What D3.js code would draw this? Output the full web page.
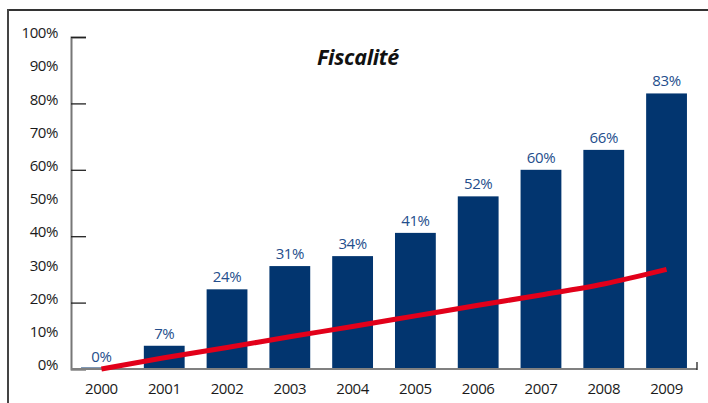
<!DOCTYPE html>
<html><head><meta charset="utf-8">
<script src="https://cdn.jsdelivr.net/npm/d3@7"></script>
<style>
body{margin:0;background:#fff;}
svg{display:block;font-family:"Open Sans",sans-serif;}
</style></head>
<body><svg id="c" width="708" height="403"></svg>
<script>
const years = ["2000","2001","2002","2003","2004","2005","2006","2007","2008","2009"];
const barValues = [0, 7, 24, 31, 34, 41, 52, 60, 66, 83];
const lineValues = [0, 3.4, 6.5, 9.7, 12.8, 16, 19.2, 22.3, 25.6, 30];
const yTickLabels = [0,10,20,30,40,50,60,70,80,90,100];
const yTickMarks = [0,20,40,60,80,100];
const title = "Fiscalité";

const svg = d3.select("#c");
const x = d3.scaleBand().domain(years).range([71, 697]).paddingInner(0.35).paddingOuter(0.16);
const y = d3.scaleLinear().domain([0, 100]).range([369, 37]);

// frame
svg.append("line").attr("x1",8).attr("x2",708).attr("y1",10).attr("y2",10).attr("stroke","#333").attr("stroke-width",2);
svg.append("line").attr("x1",8).attr("x2",8).attr("y1",9).attr("y2",403).attr("stroke","#444").attr("stroke-width",2);

// title
svg.append("text").attr("x",358).attr("y",65).attr("text-anchor","middle")
  .attr("font-size",21.5).attr("font-weight","bold").attr("font-style","italic").attr("fill","#111")
  .attr("letter-spacing",-0.3).text(title);

// bars
svg.selectAll("rect.bar").data(years).join("rect").attr("class","bar")
  .attr("x", d=>x(d)).attr("width", x.bandwidth())
  .attr("y", (d,i)=> Math.min(y(barValues[i]), y(0)-1.5))
  .attr("height", (d,i)=> Math.max(y(0)-y(barValues[i]), 1.5))
  .attr("fill","#02356f");

// value labels
svg.selectAll("text.val").data(years).join("text").attr("class","val")
  .attr("x", d=>x(d)+x.bandwidth()/2).attr("y",(d,i)=>y(barValues[i])-7)
  .attr("text-anchor","middle").attr("font-size",15).attr("letter-spacing",-0.4).attr("fill","#244e8c")
  .text((d,i)=>barValues[i]+"%");

// y axis
const yAxis = d3.axisRight(y).tickValues(yTickMarks).tickSize(15).tickFormat("");
const gy = svg.append("g").attr("transform","translate(71,0)").call(yAxis);
gy.select(".domain").attr("stroke","#777").attr("stroke-width",2);
gy.selectAll(".tick line").attr("stroke","#222").attr("stroke-width",1.3);

svg.selectAll("text.ylab").data(yTickLabels).join("text").attr("class","ylab")
  .attr("x",58).attr("y",d=>y(d)-4).attr("dy","0.35em").attr("text-anchor","end")
  .attr("font-size",15).attr("letter-spacing",-0.4).attr("fill","#1a1a1a").text(d=>d+"%");

// x axis
const xAxis = d3.axisBottom(x).tickSize(0).tickPadding(14);
const gx = svg.append("g").attr("transform","translate(0,369)").call(xAxis);
gx.select(".domain").remove();
gx.selectAll("text").attr("font-size",15).attr("letter-spacing",-0.4).attr("fill","#1a1a1a").attr("font-family","'Open Sans',sans-serif");
svg.append("line").attr("x1",71).attr("x2",697).attr("y1",369).attr("y2",369).attr("stroke","#808080").attr("stroke-width",2);
svg.append("line").attr("x1",697).attr("x2",697).attr("y1",362).attr("y2",370).attr("stroke","#222").attr("stroke-width",1.3);

// line
const line = d3.line().x((d,i)=>x(years[i])+x.bandwidth()/2).y(d=>y(d)).curve(d3.curveMonotoneX);
svg.append("path").datum(lineValues).attr("d",line).attr("fill","none")
  .attr("stroke","#e2001a").attr("stroke-width",5);
</script></body></html>
